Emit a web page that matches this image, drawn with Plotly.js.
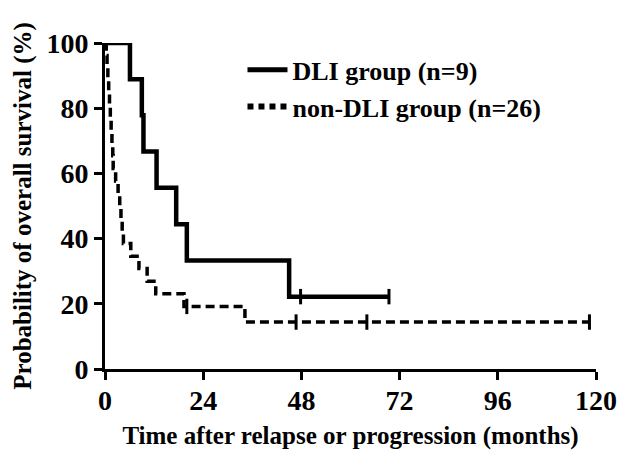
<!DOCTYPE html>
<html>
<head>
<meta charset="utf-8">
<script src="https://cdn.plot.ly/plotly-3.0.1.min.js"></script>
<style>html,body{margin:0;padding:0;background:#fff;}#chart{width:617px;height:452px;}</style>
</head>
<body>
<div id="chart"></div>
<script>
// DLI group (n=9): step times (months) and survival (%)
var dliX = [0, 6.1, 9.0, 9.4, 12.6, 17.4, 20.0, 45.0, 69.4];
var dliY = [100, 88.9, 77.8, 66.7, 55.6, 44.4, 33.3, 22.2, 22.2];
var dliCensX = [47.8, 69.4];
var dliCensY = [22.2, 22.2];

// non-DLI group (n=26)
var nonX = [0, 0.3, 0.5, 0.7, 0.9, 1.1, 1.3, 1.5, 1.7, 1.9, 2.0, 2.6, 3.2, 3.6, 3.9, 4.2, 4.5, 6.3, 8.3, 10.3, 12.4, 19.3, 34.2, 118.4];
var nonY = [100, 96.2, 92.3, 88.5, 84.6, 80.8, 76.9, 73.1, 69.2, 65.4, 61.5, 57.7, 53.8, 50.0, 46.2, 42.3, 38.5, 34.6, 30.8, 26.9, 23.1, 19.2, 14.4, 14.4];
var nonCensX = [20.0, 46.7, 64.0, 118.4];
var nonCensY = [19.2, 14.4, 14.4, 14.4];

var xTicks = [0, 24, 48, 72, 96, 120];
var yTicks = [0, 20, 40, 60, 80, 100];
var legendNames = ['DLI group (n=9)', 'non-DLI group (n=26)'];

var FONT = 'Liberation Serif, Times New Roman, serif';

var traces = [
  {x: dliX, y: dliY, mode: 'lines', line: {shape: 'hv', color: '#000', width: 4.5}, showlegend: false, hoverinfo: 'skip'},
  {x: dliCensX, y: dliCensY, mode: 'markers', marker: {symbol: 'line-ns', size: 11, line: {color: '#000', width: 3}}, showlegend: false, hoverinfo: 'skip'},
  {x: nonX, y: nonY, mode: 'lines', line: {shape: 'hv', color: '#000', width: 3.5, dash: '9px,5px'}, showlegend: false, hoverinfo: 'skip'},
  {x: nonCensX, y: nonCensY, mode: 'markers', marker: {symbol: 'line-ns', size: 11, line: {color: '#000', width: 3}}, showlegend: false, hoverinfo: 'skip'},
  {x: [null], y: [null], mode: 'lines', name: legendNames[0], line: {color: '#000', width: 5}},
  {x: [null], y: [null], mode: 'lines', name: legendNames[1], line: {color: '#000', width: 6, dash: '6px,5px'}}
];

var layout = {
  width: 617, height: 452,
  margin: {l: 105, r: 21, t: 43, b: 83},
  paper_bgcolor: '#fff', plot_bgcolor: '#fff',
  font: {family: FONT, color: '#000'},
  xaxis: {
    range: [0, 120], tickvals: xTicks, ticktext: xTicks.map(function (v) { return '<b>' + v + '</b>'; }),
    showgrid: false, zeroline: false, showline: true, linecolor: '#000', linewidth: 3,
    ticks: 'outside', ticklen: 8, tickwidth: 3, tickcolor: '#000',
    ticklabelstandoff: -4,
    tickfont: {family: FONT, size: 28, color: '#000'},
    title: {text: '<b>Time after relapse or progression (months)</b>', font: {family: FONT, size: 25, color: '#000'}, standoff: 12},
    fixedrange: true
  },
  yaxis: {
    range: [0, 100], tickvals: yTicks, ticktext: yTicks.map(function (v) { return '<b>' + v + '</b>'; }),
    showgrid: false, zeroline: false, showline: true, linecolor: '#000', linewidth: 3,
    ticks: 'outside', ticklen: 8, tickwidth: 3, tickcolor: '#000',
    tickfont: {family: FONT, size: 28, color: '#000'},
    title: {text: '<b>Probability of overall survival (%)</b>', font: {family: FONT, size: 25, color: '#000'}, standoff: 8},
    fixedrange: true
  },
  legend: {
    x: 0.28, y: 0.99, xanchor: 'left', yanchor: 'top',
    font: {family: FONT, size: 26, color: '#000', weight: 'bold'},
    bgcolor: 'rgba(0,0,0,0)', tracegroupgap: 0, itemwidth: 40
  },
  showlegend: true
};

Plotly.newPlot('chart', traces, layout, {staticPlot: true, displayModeBar: false});
</script>
</body>
</html>
